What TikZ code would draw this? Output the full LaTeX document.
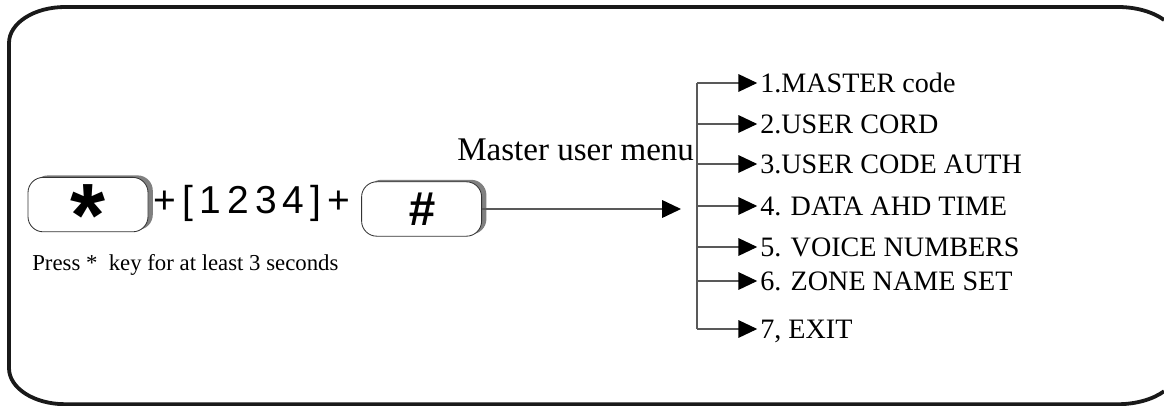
\documentclass[tikz,border=0pt]{standalone}
\usepackage{fontspec}
\setmainfont{Liberation Serif}
\newfontfamily\keyfont{Liberation Sans}
\newfontfamily\codefont[LetterSpace=16]{Liberation Sans}
\usetikzlibrary{arrows.meta,positioning,shadows,calc}
\tikzset{>={Triangle[length=0.47cm,width=0.44cm,color=black]}}

\begin{document}
\begin{tikzpicture}[
    keybox/.style={draw=black!80,line width=0.6pt,fill=white,rounded corners=0.38cm,
        minimum width=3.0cm,minimum height=1.36cm,inner sep=0pt,
        drop shadow={shadow xshift=0.12cm,shadow yshift=0.05cm,fill=black!50,opacity=1}},
    branch/.style={draw=black!65,line width=0.9pt},
    item/.style={anchor=base west,inner sep=0pt,font=\fontsize{20}{22}\selectfont},
    ]
    \fill[white,use as bounding box] (0,0) rectangle (29.1,10.125);
    \clip (0,0) rectangle (29.1,10.125);
    % frame, its right side lies outside the picture
    \draw[line width=2.7pt,black!90] ($(27.95,9.05)+(39.9:1.5 and 0.9)$)
        arc[start angle=39.9,end angle=90,x radius=1.5,y radius=0.9] -- (1.625,9.95)
        arc[start angle=90,end angle=180,x radius=1.4,y radius=0.9] -- (0.225,0.92)
        arc[start angle=180,end angle=270,x radius=1.4,y radius=0.9] -- (27.95,0.02)
        arc[start angle=-90,end angle=-39.9,x radius=1.5,y radius=0.9];
    % keys
    \node[keybox] (star) at (2.2,5.01)
        {\keyfont\bfseries\fontsize{64}{64}\selectfont\smash{\raisebox{-0.47em}{*}}};
    \node[anchor=base west,inner sep=0pt,font=\codefont\fontsize{27.7}{30}\selectfont] (code) at (3.825,4.8) {+[1234]+};
    \node[keybox] (hash) at (10.54,4.9) {\keyfont\bfseries\itshape\fontsize{34}{34}\selectfont\#};
    \node[anchor=base west,inner sep=0pt,font=\fontsize{16.2}{18}\selectfont] (press) at (0.8,3.375)
        {Press *\ \ key for at least 3 seconds};
    % menu
    \node[anchor=base west,inner sep=0pt,font=\fontsize{23.5}{25}\selectfont] (menu) at (11.425,6.125) {Master user menu};
    \coordinate (menuin) at (17.025,4.9);
    \draw[branch,->] (hash) -- (menuin);
    \foreach \y/\t [count=\i] in {8.05/1.MASTER code,7.025/2.USER CORD,6.025/3.USER CODE AUTH,
        4.975/4. DATA AHD TIME,3.95/5. VOICE NUMBERS,3.1/6. ZONE NAME SET,1.9/{7, EXIT}}{
        \coordinate (b\i) at (17.425,\y);
        \node[item] (m\i) at (19.0,\y-0.24) {\t};
        \draw[branch,->,shorten >=0.07cm] (b\i) -- (m\i.west |- b\i);
    }
    \draw[branch] (b1) -- (b7);
\end{tikzpicture}
\end{document}
